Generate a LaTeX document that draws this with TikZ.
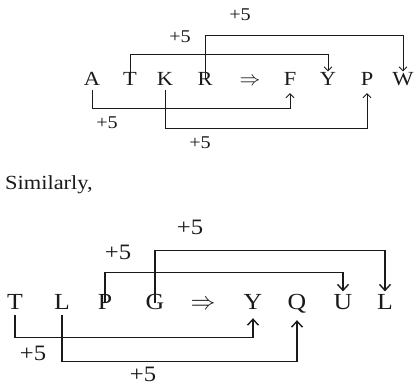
\documentclass[tikz,border=0pt]{standalone}
\usepackage{fontspec}
\setmainfont[FakeStretch=1.12]{Liberation Serif}
\definecolor{ink}{HTML}{1A1A1A}
\usetikzlibrary{arrows.meta}
\tikzset{
  letter/.style={
    inner sep=0pt, anchor=base, text=ink,
    font=\fontsize{#1}{#1}\selectfont,
    text height=0.66em, text depth=0pt
  },
  letter/.default=20,
  lbl/.style={font=\fontsize{#1}{#1}\selectfont, text=ink, inner sep=0pt},
  lbl/.default=18,
  link/.style={-{Straight Barb[length=4pt,width=8pt]}, line width=0.9pt, draw=ink},
  blink/.style={-{Straight Barb[length=6pt,width=11pt,line width=1.4pt]}, line width=1.3pt, draw=ink},
}

\begin{document}
\begin{tikzpicture}[x=1pt,y=1pt]
    \useasboundingbox (0,0) rectangle (415,387);

    \node[letter] (aA) at (92,301) {A};
    \node[letter] (aT) at (130,301) {T};
    \node[letter] (aK) at (165,301) {K};
    \node[letter] (aR) at (205,301) {R};
    \node[letter] (aimp) at (250,301) {$\Rightarrow$};
    \node[letter] (aF) at (290,301) {F};
    \node[letter] (aY) at (328,301) {Y};
    \node[letter] (aP) at (367,301) {P};
    \node[letter] (aW) at (403,301) {W};

    \draw[link, shorten >=7.8pt] (aT.north) -- ++(0,24.8) -| (aY.north);
    \draw[link, shorten >=7.8pt] (aR.north) -- ++(0,43.8) -| (aW.north);
    \draw[link, shorten <=4pt, shorten >=7pt] (aA.south) -- ++(0,-22) -| (aF.south);
    \draw[link, shorten <=4pt, shorten >=7pt] (aK.south) -- ++(0,-42) -| (aP.south);

    \node[lbl] (ap1) at (240,372) {+5};
    \node[lbl] (ap2) at (180,350) {+5};
    \node[lbl] (ap3) at (107,264) {+5};
    \node[lbl] (ap4) at (200,244) {+5};

    \node[lbl=20, anchor=base west] (sim) at (5,197) {Similarly,};

    \node[letter=23] (bT) at (15,77) {T};
    \node[letter=23] (bL) at (62,77) {L};
    \node[letter=23] (bP) at (105,77) {P};
    \node[letter=23] (bG) at (155,77) {G};
    \node[letter=23] (bimp) at (203,77) {$\Rightarrow$};
    \node[letter=23] (bY) at (253,77) {Y};
    \node[letter=23] (bQ) at (297,77) {Q};
    \node[letter=23] (bU) at (343,77) {U};
    \node[letter=23] (bLL) at (385,77) {L};

    \draw[blink, shorten >=11.8pt] (bP.north) -- ++(0,30.8) -| (bU.north);
    \draw[blink, shorten >=11.8pt] (bG.north) -- ++(0,52.8) -| (bLL.north);
    \draw[blink, shorten <=5pt, shorten >=8pt] (bT.south) -- ++(0,-27) -| (bY.south);
    \draw[blink, shorten <=5pt, shorten >=10pt] (bL.south) -- ++(0,-51) -| (bQ.south);

    \node[lbl=22] (bp1) at (190,160) {+5};
    \node[lbl=22] (bp2) at (118,135) {+5};
    \node[lbl=22] (bp3) at (33,34) {+5};
    \node[lbl=22] (bp4) at (143,13) {+5};
  \end{tikzpicture}
\end{document}
